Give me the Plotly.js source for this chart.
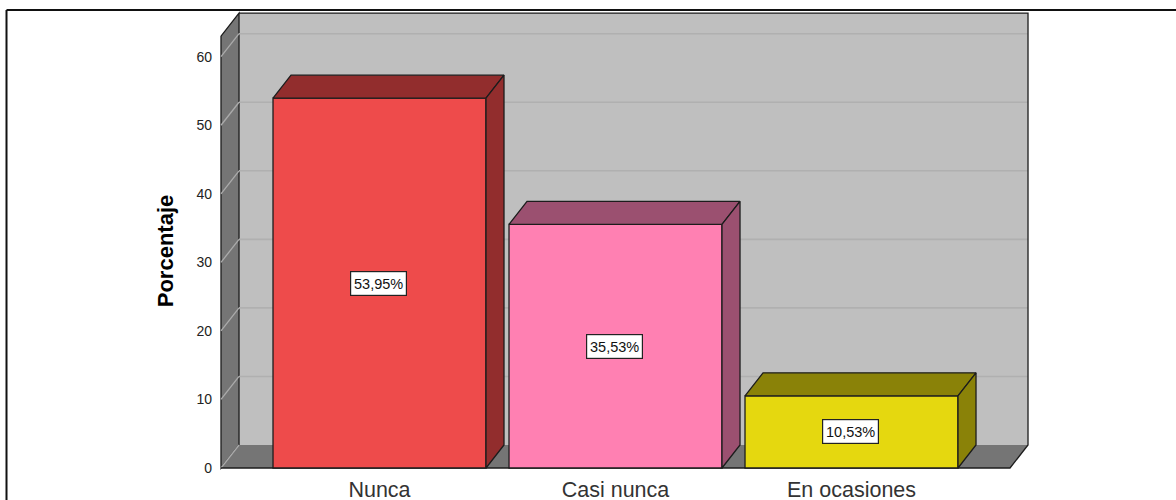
<!DOCTYPE html>
<html>
<head>
<meta charset="utf-8">
<script src="https://cdn.plot.ly/plotly-3.0.1.min.js"></script>
<style>html,body{margin:0;padding:0;background:#fff}#c{width:1176px;height:500px}</style>
</head>
<body>
<div id="c"></div>
<script>
// Data
const categories = ["Nunca", "Casi nunca", "En ocasiones"];
const values = [53.95, 35.53, 10.53];
const valueLabels = ["53,95%", "35,53%", "10,53%"];
const yTicks = [0, 10, 20, 30, 40, 50, 60];
const yTitle = "Porcentaje";

// Styles
const frontColors = ["#EE4B4B", "#FF80B2", "#E5D80F"];
const depthColors = ["#922D2D", "#9B5070", "#8A8208"];
const wallColor = "#BFBFBF", sideColor = "#757575", edge = "#1c1c1c";
const font = "Liberation Sans, Arial, sans-serif";

// Axis geometry: 3D-look offsets in axis units
const barWidth = 0.9025, depthX = 0.0763, depthY = 3.355;
const axisTop = 63, left = -0.6716, right = 2.6716;
const W = 1176, H = 500, mL = 216, mR = 144, mT = 10, mB = 8;
const xRange = [-0.6928, 2.7648], yRange = [-3.5, 66.81];
const paperX = px => (px - mL) / (W - mL - mR);
const paperY = py => (H - mB - py) / (H - mT - mB);

const poly = pts => "M" + pts.map(p => p[0] + "," + p[1]).join("L") + "Z";
const open = pts => "M" + pts.map(p => p[0] + "," + p[1]).join("L");
const dataShape = (path, fill, lineColor, lw) => ({
  type: "path", xref: "x", yref: "y", layer: "below", path: path,
  fillcolor: fill, line: {color: lineColor, width: lw}
});
const backTop = axisTop + depthY;

const shapes = [
  // back wall
  dataShape(poly([[left + depthX, depthY], [right + depthX, depthY], [right + depthX, backTop], [left + depthX, backTop]]), wallColor, "rgba(0,0,0,0)", 0),
  // left side wall
  dataShape(poly([[left, 0], [left + depthX, depthY], [left + depthX, backTop], [left, axisTop]]), sideColor, edge, 1.3),
  // floor
  dataShape(poly([[left, 0], [left + depthX, depthY], [right + depthX, depthY], [right, 0]]), sideColor, "rgba(0,0,0,0)", 0)
];
yTicks.forEach(t => {
  if (t > 0) shapes.push(dataShape(open([[left + depthX, t + depthY], [right + depthX, t + depthY]]), "rgba(0,0,0,0)", "#B0B0B0", 1.6));
  shapes.push(dataShape(open([[left, t], [left + depthX, t + depthY]]), "rgba(0,0,0,0)", "#ABABAB", 1.3));
});
// outline
shapes.push(dataShape(open([[left, 0], [right, 0], [right + depthX, depthY], [right + depthX, backTop], [left + depthX, backTop]]), "rgba(0,0,0,0)", edge, 1.3));
// outer frame
shapes.push({type: "line", xref: "paper", yref: "paper", layer: "above", x0: paperX(6.5), x1: paperX(1176), y0: paperY(10), y1: paperY(10), line: {color: "#111", width: 2}});
shapes.push({type: "line", xref: "paper", yref: "paper", layer: "above", x0: paperX(6.5), x1: paperX(6.5), y0: paperY(10), y1: paperY(500), line: {color: "#111", width: 2}});

const traces = [{
  type: "bar",
  x: categories.map((_, i) => i),
  y: values,
  width: barWidth,
  marker: {color: frontColors, line: {color: edge, width: 1.3}},
  hoverinfo: "skip"
}];
values.forEach((v, i) => {
  const a = i - barWidth / 2, b = i + barWidth / 2;
  const face = pts => ({
    type: "scatter", mode: "lines", fill: "toself",
    x: pts.map(p => p[0]), y: pts.map(p => p[1]),
    fillcolor: depthColors[i], line: {color: edge, width: 1.3},
    hoverinfo: "skip"
  });
  traces.push(face([[a, v], [a + depthX, v + depthY], [b + depthX, v + depthY], [b, v], [a, v]]));
  traces.push(face([[b, v], [b + depthX, v + depthY], [b + depthX, depthY], [b, 0], [b, v]]));
});

const annotations = values.map((v, i) => ({
  x: i, y: v / 2, xref: "x", yref: "y", text: valueLabels[i], showarrow: false, xshift: -1,
  font: {family: font, size: 14.5, color: "#111"},
  bgcolor: "#fff", bordercolor: "#222", borderwidth: 1.2, width: 55, height: 23, borderpad: 0
}));

const layout = {
  width: W, height: H,
  margin: {l: mL, r: mR, t: mT, b: mB, pad: 0},
  paper_bgcolor: "#fff", plot_bgcolor: "#fff",
  showlegend: false,
  shapes, annotations,
  xaxis: {
    range: xRange, tickmode: "array", tickvals: categories.map((_, i) => i), ticktext: categories,
    showgrid: false, zeroline: false, showline: false, ticks: "", ticklabelstandoff: 6,
    anchor: "free", position: paperY(468),
    tickfont: {family: font, size: 21.5, color: "#333"}
  },
  yaxis: {
    range: yRange, tickmode: "array", tickvals: yTicks, ticktext: yTicks.map(String),
    showgrid: false, zeroline: false, showline: false, ticks: "", ticklabelstandoff: 3,
    tickfont: {family: font, size: 14, color: "#222"},
    title: {text: yTitle, standoff: 16, font: {family: font, size: 22, color: "#000", weight: "bold"}}
  }
};
Plotly.newPlot("c", traces, layout, {displayModeBar: false, staticPlot: true});
</script>
</body>
</html>
